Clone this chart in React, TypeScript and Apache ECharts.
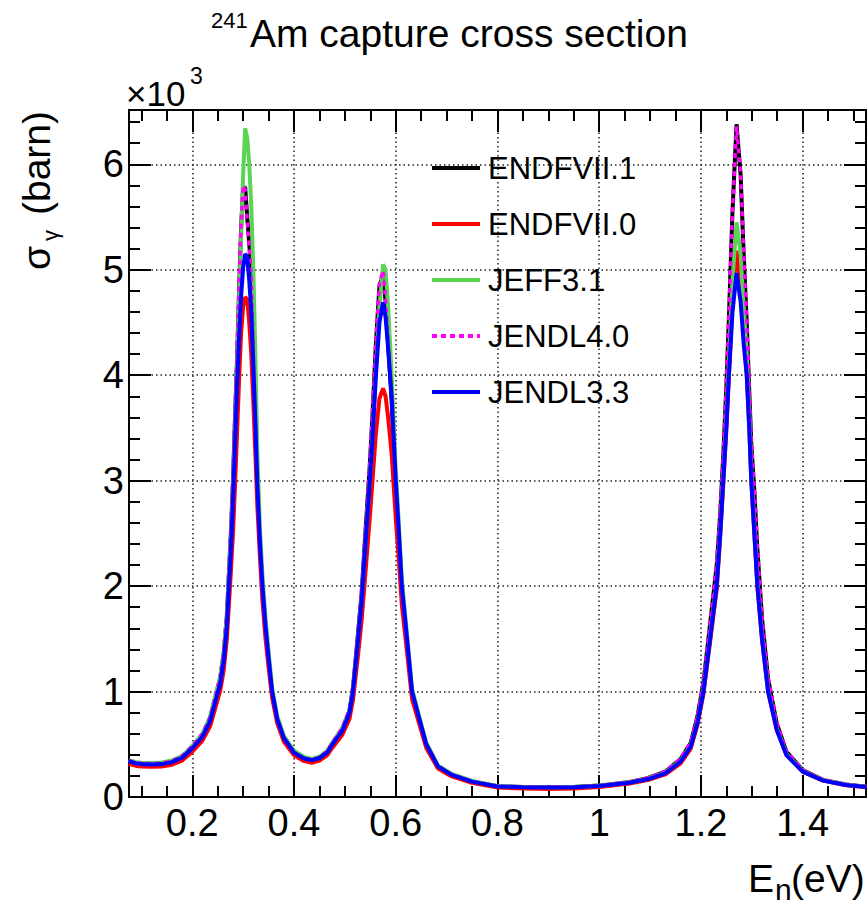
import React, { useEffect, useRef } from "react";
import * as echarts from "echarts";

// Neutron energy (eV)
const ENERGY = [
  0.075, 0.09, 0.1, 0.12, 0.14, 0.16, 0.18, 0.2, 0.22, 0.235,
  0.245, 0.255, 0.262, 0.268, 0.272, 0.276, 0.28, 0.284, 0.288, 0.292,
  0.296, 0.3, 0.304, 0.308, 0.312, 0.316, 0.32, 0.324, 0.328, 0.333,
  0.338, 0.344, 0.35, 0.357, 0.367, 0.38, 0.4, 0.42, 0.435, 0.45,
  0.465, 0.475, 0.495, 0.509, 0.516, 0.526, 0.533, 0.54, 0.549, 0.554,
  0.561, 0.568, 0.575, 0.58, 0.585, 0.592, 0.6, 0.606, 0.612, 0.623,
  0.632, 0.647, 0.66, 0.683, 0.71, 0.75, 0.8, 0.85, 0.9, 0.95,
  1.0, 1.06, 1.095, 1.13, 1.16, 1.18, 1.193, 1.205, 1.218, 1.231,
  1.238, 1.244, 1.25, 1.255, 1.262, 1.27, 1.278, 1.284, 1.29, 1.295,
  1.299, 1.305, 1.311, 1.32, 1.332, 1.349, 1.368, 1.4, 1.44, 1.485,
  1.525,
];

// Capture cross sections (barn)
const ENDFVII_1 = [
  345, 325, 318, 315, 320, 340, 385, 478, 592, 750,
  940, 1130, 1370, 1720, 2120, 2520, 3000, 3600, 4150, 4800,
  5400, 5780, 5780, 5500, 5250, 4950, 4250, 3550, 2950, 2420,
  1950, 1590, 1300, 990, 735, 555, 420, 365, 352, 375,
  430, 508, 650, 820, 1040, 1560, 1940, 2480, 3150, 3600,
  4300, 4850, 4950, 4700, 4300, 3750, 2950, 2470, 1960, 1430,
  990, 725, 500, 292, 212, 148, 102, 94, 92, 95,
  108, 142, 178, 240, 360, 515, 760, 1090, 1640, 2200,
  2700, 3250, 3900, 4550, 5550, 6380, 5900, 5150, 4500, 3850,
  3350, 2900, 2350, 1700, 1120, 700, 430, 255, 162, 118,
  98,
];
const ENDFVII_0 = [
  315, 295, 290, 286, 290, 306, 345, 430, 535, 670,
  840, 1010, 1210, 1500, 1820, 2150, 2500, 2950, 3450, 3950,
  4400, 4650, 4740, 4720, 4500, 4200, 3750, 3250, 2750, 2280,
  1860, 1500, 1230, 940, 700, 525, 395, 340, 325, 345,
  395, 465, 590, 740, 920, 1350, 1680, 2100, 2650, 2980,
  3450, 3780, 3875, 3800, 3600, 3250, 2650, 2250, 1820, 1340,
  930, 680, 465, 270, 195, 135, 90, 80, 76, 80,
  95, 128, 160, 215, 320, 460, 680, 980, 1470, 1970,
  2480, 2980, 3500, 4000, 4700, 5180, 4850, 4380, 4020, 3500,
  3000, 2500, 2000, 1500, 1000, 640, 400, 240, 155, 112,
  93,
];
const JEFF3_1 = [
  350, 330, 325, 322, 327, 346, 390, 485, 600, 760,
  950, 1140, 1380, 1720, 2100, 2480, 2900, 3500, 4050, 4700,
  5300, 5900, 6340, 6250, 6000, 5600, 5000, 4200, 3250, 2550,
  2100, 1700, 1380, 1040, 770, 580, 440, 380, 362, 383,
  435, 512, 650, 815, 1020, 1520, 1880, 2380, 3000, 3400,
  4050, 4650, 5050, 5000, 4650, 4000, 3100, 2600, 2060, 1500,
  1030, 750, 515, 300, 218, 152, 104, 95, 93, 95,
  108, 140, 173, 232, 345, 490, 715, 1020, 1530, 2030,
  2550, 3050, 3600, 4150, 4900, 5450, 5150, 4650, 4200, 3650,
  3100, 2580, 2060, 1540, 1030, 655, 410, 248, 160, 118,
  98,
];
const JENDL4_0 = [
  345, 326, 319, 316, 321, 342, 388, 482, 598, 756,
  948, 1140, 1385, 1740, 2140, 2550, 3040, 3640, 4200, 4850,
  5430, 5800, 5760, 5470, 5230, 4930, 4230, 3540, 2940, 2410,
  1945, 1590, 1300, 990, 735, 555, 422, 367, 354, 377,
  433, 512, 655, 828, 1050, 1575, 1960, 2500, 3180, 3640,
  4330, 4880, 4990, 4720, 4310, 3760, 2960, 2480, 1965, 1435,
  995, 728, 502, 294, 214, 149, 103, 95, 93, 96,
  109, 143, 180, 243, 365, 520, 768, 1100, 1650, 2220,
  2720, 3270, 3920, 4570, 5560, 6360, 5920, 5170, 4520, 3870,
  3370, 2910, 2360, 1710, 1130, 705, 433, 257, 163, 119,
  99,
];
const JENDL3_3 = [
  340, 318, 312, 308, 312, 330, 372, 462, 572, 720,
  900, 1080, 1300, 1620, 2000, 2350, 2800, 3350, 3900, 4350,
  4750, 5020, 5150, 5120, 4900, 4600, 4100, 3550, 2950, 2420,
  2000, 1620, 1320, 1000, 740, 560, 420, 365, 350, 370,
  420, 496, 629, 797, 1000, 1500, 1860, 2360, 2990, 3360,
  3995, 4500, 4690, 4550, 4260, 3795, 3000, 2520, 2000, 1460,
  1000, 730, 500, 290, 210, 146, 100, 92, 90, 92,
  104, 136, 168, 225, 335, 477, 700, 1000, 1500, 2000,
  2500, 3000, 3500, 4000, 4600, 4970, 4700, 4300, 4000, 3500,
  3000, 2500, 2000, 1500, 1000, 636, 398, 240, 155, 114,
  95,
];

const SERIES_NAMES = ["ENDFVII.1", "ENDFVII.0", "JEFF3.1", "JENDL4.0", "JENDL3.3"];
const SERIES_VALUES = [ENDFVII_1, ENDFVII_0, JEFF3_1, JENDL4_0, JENDL3_3];
const SERIES_COLORS = ["#000000", "#ff0000", "#59d454", "#ff00ff", "#0000ff"];

const X_MAJOR = [0.2, 0.4, 0.6, 0.8, 1.0, 1.2, 1.4];
const X_MINOR = [0.1, 0.15, 0.25, 0.3, 0.35, 0.45, 0.5, 0.55, 0.65, 0.7, 0.75, 0.85, 0.9, 0.95, 1.05, 1.1, 1.15, 1.25, 1.3, 1.35, 1.45, 1.5];
const Y_MAJOR = [0, 1000, 2000, 3000, 4000, 5000, 6000];
const Y_MINOR = [200, 400, 600, 800, 1200, 1400, 1600, 1800, 2200, 2400, 2600, 2800, 3200, 3400, 3600, 3800, 4200, 4400, 4600, 4800, 5200, 5400, 5600, 5800, 6200, 6400];

const X_MIN = 0.0756;
const X_MAX = 1.5245;
const Y_MIN = 0;
const Y_MAX = 6515;

const FONT = "'Liberation Sans', Arial, Helvetica, sans-serif";
const TICK_STYLE = { color: "#000", width: 2 };
const GRID_STYLE = { color: "#222", width: 1.5, type: [1.5, 3] as any };

function makeXAxis(position: string, values: number[], len: number, major: boolean, labels: boolean) {
  return {
    type: "value",
    min: X_MIN,
    max: X_MAX,
    position,
    axisLine: { show: major, onZero: false, lineStyle: { color: "#000", width: 2 } },
    axisTick: { show: true, inside: true, length: len, customValues: values, lineStyle: TICK_STYLE },
    axisLabel: labels
      ? {
          show: true,
          customValues: values,
          fontSize: 38,
          fontFamily: FONT,
          color: "#000",
          margin: 7,
          formatter: (v: number) => String(Math.round(v * 10) / 10),
        }
      : { show: false },
    splitLine: labels ? { show: true, lineStyle: GRID_STYLE } : { show: false },
  };
}

function makeYAxis(position: string, values: number[], len: number, major: boolean, labels: boolean) {
  return {
    type: "value",
    min: Y_MIN,
    max: Y_MAX,
    position,
    axisLine: { show: major, onZero: false, lineStyle: { color: "#000", width: 2 } },
    axisTick: { show: true, inside: true, length: len, customValues: values, lineStyle: TICK_STYLE },
    axisLabel: labels
      ? {
          show: true,
          customValues: values,
          fontSize: 38,
          fontFamily: FONT,
          color: "#000",
          margin: 5,
          formatter: (v: number) => String(Math.round(v / 1000)),
        }
      : { show: false },
    splitLine: labels ? { show: true, lineStyle: GRID_STYLE } : { show: false },
  };
}

const txt = (text: string, x: number, y: number, fontSize: number, align = "left") => ({
  type: "text",
  x,
  y,
  silent: true,
  style: {
    text,
    fontSize,
    fontFamily: FONT,
    fill: "#000",
    align,
    verticalAlign: "middle",
  },
});

const option: any = {
  animation: false,
  backgroundColor: "#ffffff",
  grid: { left: 129, top: 110, right: 2, bottom: 108, containLabel: false },
  xAxis: [
    makeXAxis("bottom", X_MAJOR, 22, true, true),
    makeXAxis("bottom", X_MINOR, 11, false, false),
    makeXAxis("top", X_MAJOR, 22, true, false),
    makeXAxis("top", X_MINOR, 11, false, false),
  ],
  yAxis: [
    makeYAxis("left", Y_MAJOR, 22, true, true),
    makeYAxis("left", Y_MINOR, 11, false, false),
    makeYAxis("right", Y_MAJOR, 22, true, false),
    makeYAxis("right", Y_MINOR, 11, false, false),
  ],
  legend: {
    show: true,
    orient: "vertical",
    left: 425,
    top: 147,
    itemWidth: 48,
    itemHeight: 14,
    itemGap: 24,
    selectedMode: false,
    itemStyle: { opacity: 0 },
    lineStyle: { width: 4, inactiveWidth: 4 },
    textStyle: { fontSize: 31, fontFamily: FONT, color: "#000", lineHeight: 32, padding: [0, 0, 0, 3] },
    data: SERIES_NAMES,
  },
  series: SERIES_NAMES.map((name, i) => ({
    name,
    type: "line",
    xAxisIndex: 0,
    yAxisIndex: 0,
    symbol: "none",
    showSymbol: false,
    data: ENERGY.map((e, j) => [e, SERIES_VALUES[i][j]]),
    lineStyle: {
      color: SERIES_COLORS[i],
      width: i === 3 ? 3.4 : 4,
      type: i === 3 ? [5, 4] : "solid",
    },
    itemStyle: { color: SERIES_COLORS[i] },
    z: 2 + i,
  })),
  graphic: [
    txt("241", 211, 20, 22),
    txt("Am capture cross section", 250, 33.5, 39),
    txt("×10", 126, 93, 35),
    txt("3", 190, 76, 23),
    {
      type: "group",
      x: 50,
      y: 270,
      rotation: Math.PI / 2,
      children: [
        txt("σ", 0, -13.5, 39),
        txt("γ", 29, 0, 22),
        txt("(barn)", 55, -13.5, 39),
      ],
    },
    txt("E", 748, 878, 39),
    txt("n", 775, 889.6, 30),
    txt("(eV)", 791, 878, 39),
  ],
};

export default function App() {
  const ref = useRef<HTMLDivElement>(null);
  useEffect(() => {
    const chart = echarts.init(ref.current!, null, { renderer: "svg" });
    chart.setOption(option);
    return () => chart.dispose();
  }, []);
  return (
    <div
      ref={ref}
      style={{ position: "absolute", left: 0, top: 0, width: 868, height: 905, background: "#fff" }}
    />
  );
}
